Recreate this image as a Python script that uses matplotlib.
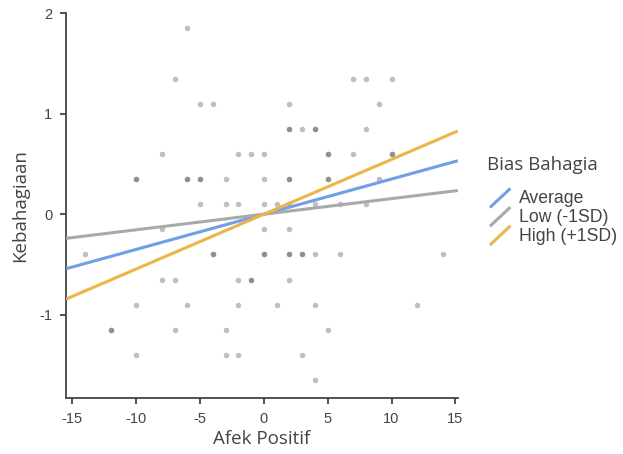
import matplotlib
matplotlib.use("Agg")
import matplotlib.pyplot as plt
import numpy as np
from matplotlib.legend_handler import HandlerBase
from matplotlib.lines import Line2D

# ---- data ----
afek_x = [-6, -7, -5, -4, 7, 8, 10, 2, 9,
          -8, -2, -1, 0, 2, 3, 4, 8, 5, 7, 10, 5, 10,
          -10, -6, -5, -3, 0, 2, 5, 9, -10, -6, -5, 2, 2, 4, 5,
          -5, -3, -2, 0, 1, 2, 4, 6, 8,
          -8, 0, 2,
          -14, -4, 0, 2, 3, 4, 6, 14, -4, 0, 2, 3,
          -8, -7, -2, -1, 2, -1,
          -10, -6, -2, 1, 4, 12,
          -12, -7, -3, 5, -12,
          -10, -3, -2, 3,
          4]
kebahagiaan_y = [1.85, 1.35, 1.1, 1.1, 1.35, 1.35, 1.35, 1.1, 1.1,
                 0.6, 0.6, 0.6, 0.6, 0.85, 0.85, 0.85, 0.85, 0.6, 0.6, 0.6, 0.6, 0.6,
                 0.35, 0.35, 0.35, 0.35, 0.35, 0.35, 0.35, 0.35, 0.35, 0.35, 0.35, 0.35, 0.85, 0.85, 0.35,
                 0.1, 0.1, 0.1, 0.1, 0.1, 0.1, 0.1, 0.1, 0.1,
                 -0.15, -0.15, -0.15,
                 -0.4, -0.4, -0.4, -0.4, -0.4, -0.4, -0.4, -0.4, -0.4, -0.4, -0.4, -0.4,
                 -0.65, -0.65, -0.65, -0.65, -0.65, -0.65,
                 -0.9, -0.9, -0.9, -0.9, -0.9, -0.9,
                 -1.15, -1.15, -1.15, -1.15, -1.15,
                 -1.4, -1.4, -1.4, -1.4,
                 -1.65]

groups = ["Average", "Low (-1SD)", "High (+1SD)"]
slopes = [0.035, 0.0155, 0.0545]
intercepts = [0.0, 0.0, 0.0]
colors = ["#6f9fe4", "#a9a9a9", "#ebb54a"]

xticks = [-15, -10, -5, 0, 5, 10, 15]
yticks = [-1, 0, 1, 2]

# ---- figure ----
fig = plt.figure(figsize=(6.23, 4.54), dpi=100)
ax = fig.add_axes([0.106, 0.123, 0.629, 0.848])

ax.scatter(afek_x, kebahagiaan_y, s=16, color="black", alpha=0.25,
           linewidths=0, zorder=2)

xlim = (-15.5, 15.2)
xs = np.array(xlim)
handles = []
for g, m, b, c in zip(groups, slopes, intercepts, colors):
    ln, = ax.plot(xs, m * xs + b, color=c, lw=2.2, solid_capstyle="butt",
                  label=g, zorder=3)
    handles.append(ln)

ax.set_xlim(*xlim)
ax.set_ylim(-1.83, 2.0)
ax.set_xticks(xticks)
ax.set_yticks(yticks)
ax.set_xticklabels([str(t) for t in xticks], family="Liberation Sans",
                   fontsize=10.5, color="#444444")
ax.set_yticklabels([str(t) for t in yticks], family="Liberation Sans",
                   fontsize=10.5, color="#444444")

for side in ["top", "right"]:
    ax.spines[side].set_visible(False)
for side in ["left", "bottom"]:
    ax.spines[side].set_color("#444444")
    ax.spines[side].set_linewidth(1.3)
ax.tick_params(axis="both", direction="out", length=4, width=1.3,
               color="#444444", pad=6)

ax.set_xlabel("Afek Positif", family="Open Sans", fontsize=13.5,
              color="#444444", labelpad=3)
ax.set_ylabel("Kebahagiaan", family="Open Sans", fontsize=13.5,
              color="#444444", labelpad=7)


class DiagHandler(HandlerBase):
    def create_artists(self, legend, orig_handle, xdescent, ydescent,
                       width, height, fontsize, trans):
        l = Line2D([xdescent + width * 0.1, xdescent + width * 0.9],
                   [ydescent - height * 0.35, ydescent + height * 1.2],
                   color=orig_handle.get_color(), lw=2.2,
                   solid_capstyle="butt", transform=trans)
        return [l]


leg = fig.legend(handles=handles, labels=groups,
                 handler_map={Line2D: DiagHandler()},
                 loc="upper left", bbox_to_anchor=(0.771, 0.673),
                 frameon=False, title="Bias Bahagia",
                 prop={"family": "Liberation Sans", "size": 12.7},
                 handlelength=1.45, handletextpad=0.35, labelspacing=0.1,
                 borderaxespad=0, alignment="left")
leg.get_title().set_family("Open Sans")
leg.get_title().set_fontsize(13.5)
leg.get_title().set_color("#444444")
for t in leg.get_texts():
    t.set_color("#444444")
leg._legend_box.sep = 12

fig.savefig("out.png", dpi=100)
